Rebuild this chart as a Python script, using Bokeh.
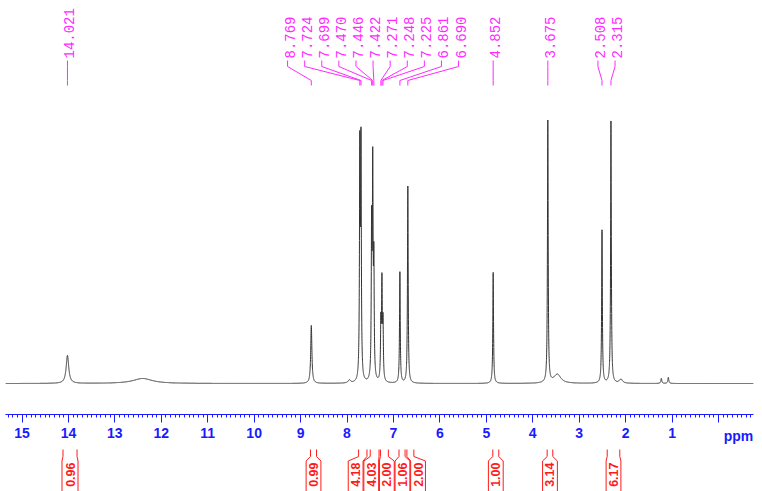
import numpy as np
from bokeh.plotting import figure
from bokeh.models import Range1d, SingleIntervalTicker, LinearAxis
from bokeh.core.properties import value
from bokeh.embed import file_html
from bokeh.resources import INLINE

# ---------------- data ----------------
# peak-pick labels (ppm)
peak_labels = [14.021, 8.769, 7.724, 7.699, 7.470, 7.446, 7.422, 7.271,
               7.248, 7.225, 6.861, 6.690, 4.852, 3.675, 2.508, 2.315]
# spectrum lines: position (ppm), height (intensity, arb.), half width (ppm)
line_ppm = [14.021, 12.40, 8.769, 7.95, 7.724, 7.699, 7.470, 7.446, 7.422,
            7.271, 7.248, 7.225, 6.861, 6.690, 4.852, 3.675, 3.47,
            2.508, 2.315, 2.10, 1.23, 1.08]
line_height = [28, 5, 58, 3, 226, 230, 148, 204, 110,
               55, 95, 55, 111, 197, 111, 262, 9,
               153, 262, 4, 5, 6]
line_hwhm = [0.033, 0.25, 0.015, 0.03, 0.009, 0.009, 0.009, 0.009, 0.009,
             0.009, 0.009, 0.009, 0.009, 0.009, 0.009, 0.009, 0.09,
             0.009, 0.009, 0.04, 0.012, 0.012]
# integrals
integral_values = [0.96, 0.99, 4.18, 4.03, 2.00, 1.06, 2.00, 1.00, 3.14, 6.17]
integral_from = [14.117, 8.786, 7.75, 7.50, 7.28, 6.88, 6.71, 4.860, 3.689, 2.396]
integral_to = [13.815, 8.657, 7.57, 7.31, 7.11, 6.75, 6.56, 4.731, 3.568, 2.125]
spectrum_start, spectrum_end = 15.35, -0.75
tick_interval = 1
axis_unit = "ppm"

# ---------------- geometry ----------------
W, H = 762, 491
PX_PER_PPM = 46.43
X15 = 21.5          # page x of 15 ppm


def px2ppm(x):
    return 15 - (x - X15) / PX_PER_PPM


def ppm2px(p):
    return X15 + (15 - p) * PX_PER_PPM


def v(page_y):      # data y from page y (baseline of spectrum = 0)
    return 383 - page_y


def spread(centers, gap):
    order = list(np.argsort(centers))
    groups = [[i] for i in order]
    changed = True
    while changed:
        changed = False
        new = []
        for g in groups:
            if new:
                prev = new[-1]
                pc = np.mean([centers[i] for i in prev])
                gc = np.mean([centers[i] for i in g])
                pend = pc + (len(prev) - 1) / 2 * gap
                gstart = gc - (len(g) - 1) / 2 * gap
                if gstart - pend < gap:
                    new[-1] = prev + g
                    changed = True
                    continue
            new.append(g)
        groups = new
    pos = [0.0] * len(centers)
    for g in groups:
        c = np.mean([centers[i] for i in g])
        for k, i in enumerate(g):
            pos[i] = c + (k - (len(g) - 1) / 2) * gap
    return pos


MAG = "#ff2aff"
RED = "#ff1a1a"
BLUE = "#1a1aff"

p = figure(width=W, height=H,
           x_range=Range1d(px2ppm(0), px2ppm(W)),
           y_range=Range1d(v(H), v(0)),
           output_backend="svg", toolbar_location=None, title=None,
           x_axis_location=None, y_axis_location=None,
           min_border_left=0, min_border_right=0, min_border_top=0,
           min_border_bottom=0)
p.outline_line_color = None
p.grid.visible = False

# spectrum
xs = np.arange(spectrum_start, spectrum_end, -0.001)
ys = np.zeros_like(xs)
for c, h, g in zip(line_ppm, line_height, line_hwhm):
    ys += h / (1 + ((xs - c) / g) ** 2)
p.line(xs, ys, line_color="#333333", line_width=1)

# peak labels
peak_px = [ppm2px(q) for q in peak_labels]
lab_px = spread(peak_px, 17.1)
cx, cy = [], []
for pk, lb in zip(peak_px, lab_px):
    cx.append([px2ppm(lb), px2ppm(lb), px2ppm(pk), px2ppm(pk)])
    cy.append([v(60), v(66), v(80), v(85)])
p.multi_line(cx, cy, line_color=MAG, line_width=1)
p.text(x=[px2ppm(lb) for lb in lab_px], y=[v(58)] * len(lab_px),
       text=["%.3f" % q for q in peak_labels], angle=np.pi / 2,
       text_align="left", text_baseline="middle", x_offset=2,
       text_font=value("Liberation Mono"), text_font_size="14px",
       text_color=MAG)

# x axis inside the frame
ax = LinearAxis(fixed_location=v(414), bounds=(spectrum_end, spectrum_start))
ax.ticker = SingleIntervalTicker(interval=tick_interval, num_minor_ticks=10)
ax.major_label_overrides = {0: ""}
ax.axis_line_color = BLUE
ax.major_tick_line_color = BLUE
ax.minor_tick_line_color = BLUE
ax.major_tick_in = 0
ax.major_tick_out = 8
ax.minor_tick_in = 0
ax.minor_tick_out = 3
ax.major_label_standoff = 5
ax.major_label_text_color = BLUE
ax.major_label_text_font = "Liberation Sans"
ax.major_label_text_font_style = "bold"
ax.major_label_text_font_size = "14px"
p.add_layout(ax, "below")

p.text(x=[px2ppm(738)], y=[v(427)], text=[axis_unit], text_align="center",
       text_baseline="top", text_color=BLUE,
       text_font=value("Liberation Sans"), text_font_style="bold",
       text_font_size="14px")

# integrals
reg_l = [ppm2px(a) for a in integral_from]
reg_r = [ppm2px(b) for b in integral_to]
reg_c = [(a + b) / 2 for a, b in zip(reg_l, reg_r)]
box_c = spread(reg_c, 15.6)
ix, iy = [], []
for l, r, c in zip(reg_l, reg_r, box_c):
    hw = max(7.4, (r - l) / 2 + 1.0)
    for top, bot in ((l, c - hw), (r, c + hw)):
        ix.append([px2ppm(top), px2ppm(top), px2ppm(bot), px2ppm(bot)])
        iy.append([v(449), v(456), v(460.5), v(500)])
p.multi_line(ix, iy, line_color=RED, line_width=1)
p.text(x=[px2ppm(c) for c in box_c], y=[v(462)] * len(box_c),
       text=["%.2f" % t for t in integral_values], angle=np.pi / 2,
       text_align="right", text_baseline="middle", x_offset=0,
       text_font=value("Liberation Sans"), text_font_style="bold",
       text_font_size="12.5px", text_color=RED)

open("out.html", "w").write(file_html(p, INLINE))
